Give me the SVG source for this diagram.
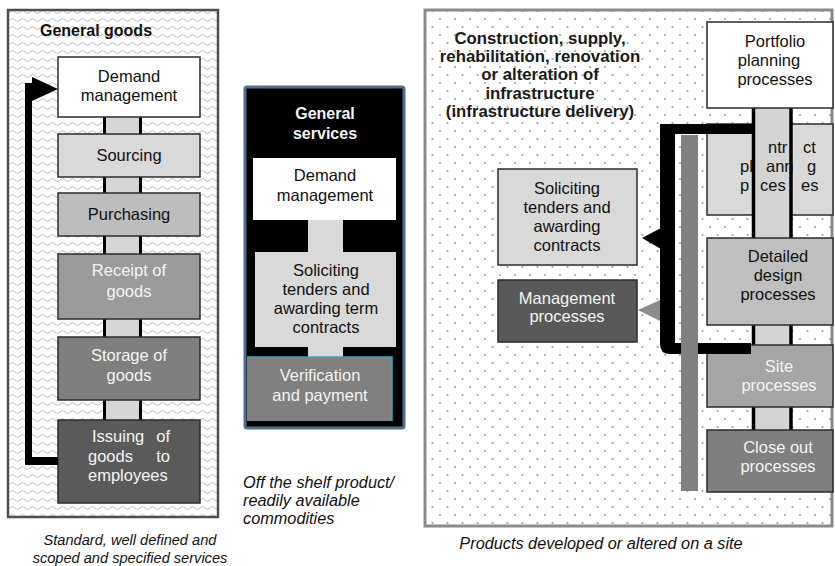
<svg xmlns="http://www.w3.org/2000/svg" width="835" height="566" viewBox="0 0 835 566">
<style>
text{font-family:"Liberation Sans",Arial,sans-serif;font-size:16.5px;fill:#111;}
.c{text-anchor:middle;}
.w{fill:#f4f4f4;}
.b{font-weight:bold;font-size:16px;}
.t{font-weight:bold;font-size:16.8px;fill:#1a1a1a;}
.cap{font-style:italic;font-size:16.3px;}
.capl{font-style:italic;font-size:14.6px;}
.box{stroke:#2b2b2b;stroke-width:1.5;}
</style>
<defs>
<pattern id="waves" width="10" height="8" patternUnits="userSpaceOnUse">
<rect width="10" height="8" fill="#ffffff"/>
<path d="M0,4 q2.5,-3 5,0 t5,0" fill="none" stroke="#b3b3b3" stroke-width="0.9"/>
</pattern>
<pattern id="dots" width="15" height="16" patternUnits="userSpaceOnUse">
<rect width="15" height="16" fill="#ffffff"/>
<circle cx="5" cy="3" r="1.1" fill="#a3a3a3"/>
<circle cx="12.5" cy="11" r="1.1" fill="#a3a3a3"/>
</pattern>
</defs>
<rect width="835" height="566" fill="#ffffff"/>

<!-- LEFT PANEL -->
<g id="panel-goods">
<rect x="8" y="10" width="210" height="507" fill="url(#waves)" stroke="#4f4f4f" stroke-width="2.5"/>
<text class="b" x="40" y="36">General goods</text>
</g>
<g id="connectors">
<rect x="104" y="117" width="37" height="303" fill="#d6d6d6"/>
<line x1="104.5" y1="117" x2="104.5" y2="420" stroke="#000" stroke-width="3"/>
<line x1="140.5" y1="117" x2="140.5" y2="420" stroke="#000" stroke-width="3"/>
</g>

<g id="goods-demand"><rect class="box" x="58" y="57" width="142" height="60" fill="#ffffff"/>
<text class="c" x="129" y="82">Demand</text><text class="c" x="129" y="101">management</text></g>
<g id="goods-sourcing"><rect class="box" x="58" y="134" width="142" height="43" fill="#d9d9d9"/>
<text class="c" x="129" y="161">Sourcing</text></g>
<g id="goods-purchasing"><rect class="box" x="58" y="193" width="142" height="43" fill="#bdbdbd"/>
<text class="c" x="129" y="220">Purchasing</text></g>
<g id="goods-receipt"><rect class="box" x="58" y="254" width="142" height="65" fill="#9b9b9b"/>
<text class="c w" x="129" y="276">Receipt of</text><text class="c w" x="129" y="297">goods</text></g>
<g id="goods-storage"><rect class="box" x="58" y="337" width="142" height="63" fill="#7f7f7f"/>
<text class="c w" x="129" y="361">Storage of</text><text class="c w" x="129" y="381">goods</text></g>
<g id="goods-issuing"><rect class="box" x="58" y="420" width="142" height="83" fill="#5a5a5a"/>
<text class="w" y="442"><tspan x="92">Issuing</tspan><tspan x="170" text-anchor="end">of</tspan></text>
<text class="w" y="462"><tspan x="88">goods</tspan><tspan x="170" text-anchor="end">to</tspan></text>
<text class="w" x="88" y="481">employees</text></g>

<g id="goods-feedback">
<rect x="25" y="83" width="7" height="382" fill="#000"/>
<rect x="25" y="457" width="33" height="8" fill="#000"/>
<polygon points="32,77 32,101 58,89" fill="#000"/>
</g>

<g id="caption-goods">
<text class="c capl" x="130" y="545">Standard, well defined and</text>
<text class="c capl" x="130" y="563">scoped and specified services</text>
</g>

<!-- MIDDLE PANEL -->
<g id="panel-services">
<rect x="245" y="87" width="159" height="341" rx="2" fill="#000" stroke="#4f6e90" stroke-width="3"/>
<text class="c b w" x="325" y="119">General</text>
<text class="c b w" x="325" y="139">services</text>
</g>
<g id="services-connectors"><rect x="308" y="220" width="35" height="137" fill="#d9d9d9"/></g>
<g id="services-demand"><rect x="253" y="158" width="143" height="62" fill="#ffffff"/>
<text class="c" x="325" y="181">Demand</text><text class="c" x="325" y="201">management</text></g>
<g id="services-soliciting"><rect x="255" y="252" width="141" height="95" fill="#d9d9d9"/>
<text class="c" x="326" y="276">Soliciting</text><text class="c" x="326" y="295">tenders and</text>
<text class="c" x="326" y="314">awarding term</text><text class="c" x="326" y="333">contracts</text></g>
<g id="services-verification"><rect x="247" y="357" width="145" height="64" fill="#808080"/>
<polyline points="247,357 392,357 392,421" fill="none" stroke="#33a8c2" stroke-width="1.5"/>
<text class="c w" x="320" y="381">Verification</text><text class="c w" x="320" y="401">and payment</text></g>
<g id="caption-services">
<text class="cap" x="243" y="488">Off the shelf product/</text>
<text class="cap" x="243" y="506">readily available</text>
<text class="cap" x="243" y="524">commodities</text>
</g>

<!-- RIGHT PANEL -->
<g id="panel-infrastructure">
<rect x="425" y="10" width="407" height="516" fill="url(#dots)" stroke="#8a8a8a" stroke-width="3"/>
<text class="c t" x="540" y="44">Construction, supply,</text>
<text class="c t" x="540" y="62">rehabilitation, renovation</text>
<text class="c t" x="540" y="80">or alteration of</text>
<text class="c t" x="540" y="99">infrastructure</text>
<text class="c t" x="540" y="117">(infrastructure delivery)</text>
</g>

<g id="infra-contract-planning"><rect class="box" x="707" y="124" width="126" height="91" fill="#d9d9d9"/></g>
<g id="infra-column">
<rect x="753" y="107" width="38" height="323" fill="#d4d4d4"/>
<text x="768" y="153">ntr</text><text x="803" y="153">ct</text>
<text x="740" y="172">pl</text><text x="766" y="172">ann</text><text x="807" y="172">g</text>
<text x="740" y="191">p</text><text x="760" y="191">ces</text><text x="801" y="191">es</text>
<line x1="753.5" y1="107" x2="753.5" y2="430" stroke="#000" stroke-width="3.5"/>
<line x1="791" y1="107" x2="791" y2="430" stroke="#000" stroke-width="3.5"/>
</g>
<g id="infra-portfolio"><rect class="box" x="707" y="22" width="126" height="86" fill="#ffffff"/>
<text class="c" x="775" y="47">Portfolio</text><text class="c" x="769" y="66">planning</text><text class="c" x="775" y="85">processes</text></g>
<g id="infra-detailed"><rect class="box" x="707" y="238" width="126" height="87" fill="#bfbfbf"/>
<text class="c" x="778" y="262">Detailed</text><text class="c" x="778" y="281">design</text><text class="c" x="778" y="300">processes</text></g>
<g id="infra-site"><rect class="box" x="707" y="345" width="126" height="62" fill="#a5a5a5"/>
<text class="c w" x="779" y="372">Site</text><text class="c w" x="779" y="391">processes</text></g>
<g id="infra-closeout"><rect class="box" x="707" y="430" width="126" height="62" fill="#7f7f7f"/>
<text class="c w" x="778" y="453">Close out</text><text class="c w" x="778" y="472">processes</text></g>

<g id="infra-soliciting"><rect class="box" x="498" y="169" width="139" height="96" fill="#d9d9d9"/>
<text class="c" x="567" y="194">Soliciting</text><text class="c" x="567" y="213">tenders and</text>
<text class="c" x="567" y="232">awarding</text><text class="c" x="567" y="251">contracts</text></g>
<g id="infra-management"><rect class="box" x="498" y="280" width="139" height="62" fill="#595959"/>
<text class="c w" x="567" y="304">Management</text><text class="c w" x="567" y="322">processes</text></g>

<g id="infra-connectors">
<path d="M660,124 H752 V134 H675 V343 H751 V354 H670 Q660,354 660,344 Z" fill="#000"/>
<rect x="681" y="135" width="17" height="356" fill="#808080"/>
<polygon points="642,238 661,228 661,249" fill="#000"/>
<polygon points="638,310 660,300 660,321" fill="#8c8c8c"/>
</g>

<g id="caption-infrastructure">
<text class="c cap" x="601" y="549">Products developed or altered on a site</text>
</g>
</svg>
